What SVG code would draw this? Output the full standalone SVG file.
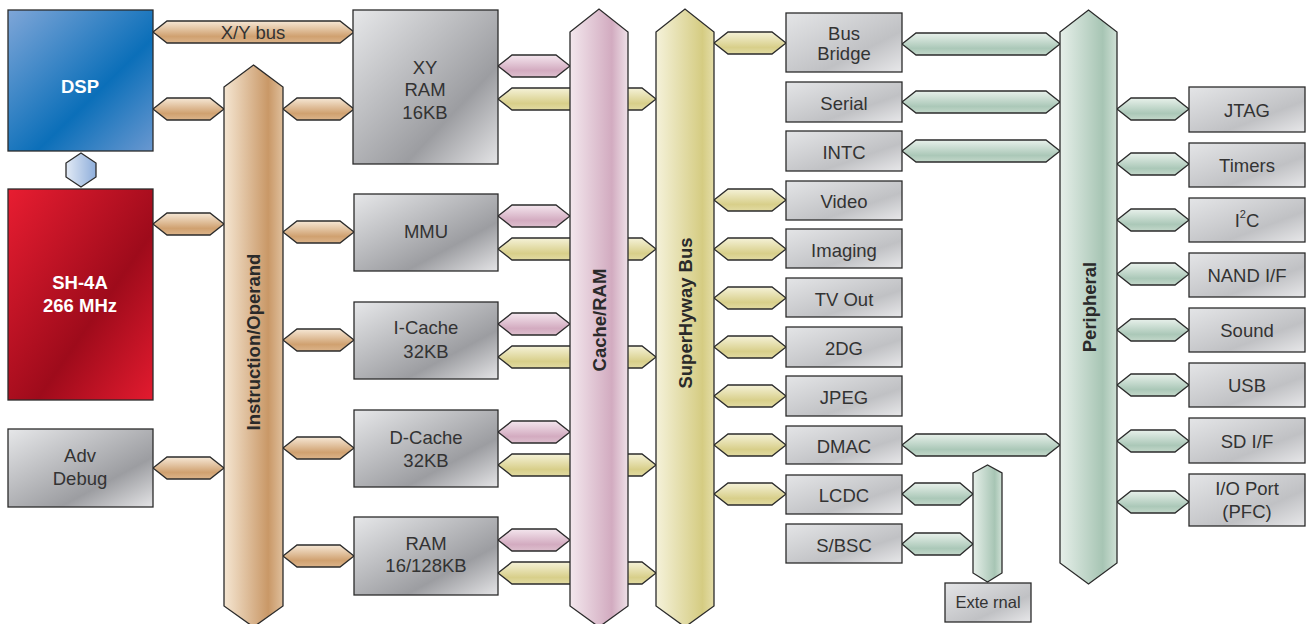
<svg xmlns="http://www.w3.org/2000/svg" width="1307" height="624" viewBox="0 0 1307 624">
<defs>
<linearGradient id="bOr" x1="0" y1="0" x2="1" y2="0"><stop offset="0" stop-color="#f5e6d2"/><stop offset="0.75" stop-color="#c99867"/><stop offset="1" stop-color="#dfbf9c"/></linearGradient>
<linearGradient id="bMa" x1="0" y1="0" x2="1" y2="0"><stop offset="0" stop-color="#f3e7ed"/><stop offset="0.72" stop-color="#d2abc0"/><stop offset="1" stop-color="#eee0e7"/></linearGradient>
<linearGradient id="bYe" x1="0" y1="0" x2="1" y2="0"><stop offset="0" stop-color="#f5f2da"/><stop offset="0.8" stop-color="#d5cc82"/><stop offset="1" stop-color="#e4dda8"/></linearGradient>
<linearGradient id="bGr" x1="0" y1="0" x2="1" y2="0"><stop offset="0" stop-color="#e6efe9"/><stop offset="0.75" stop-color="#a7c5b4"/><stop offset="1" stop-color="#cfe0d5"/></linearGradient>
<linearGradient id="cOr" x1="0" y1="0" x2="0" y2="1"><stop offset="0" stop-color="#f6e8d6"/><stop offset="0.7" stop-color="#d0a170"/><stop offset="1" stop-color="#dcb48a"/></linearGradient>
<linearGradient id="cMa" x1="0" y1="0" x2="0" y2="1"><stop offset="0" stop-color="#f4e6ee"/><stop offset="0.7" stop-color="#d3abc0"/><stop offset="1" stop-color="#ddbfce"/></linearGradient>
<linearGradient id="cYe" x1="0" y1="0" x2="0" y2="1"><stop offset="0" stop-color="#f5f2d8"/><stop offset="0.7" stop-color="#d8cf8a"/><stop offset="1" stop-color="#e2dba2"/></linearGradient>
<linearGradient id="cGr" x1="0" y1="0" x2="0" y2="1"><stop offset="0" stop-color="#e8f1eb"/><stop offset="0.7" stop-color="#abc8b8"/><stop offset="1" stop-color="#c3d8ca"/></linearGradient>
<linearGradient id="gBig" x1="0" y1="0" x2="1" y2="1"><stop offset="0" stop-color="#e6e7e9"/><stop offset="0.68" stop-color="#9c9da1"/><stop offset="1" stop-color="#e4e4e6"/></linearGradient>
<linearGradient id="gSm" x1="0" y1="0" x2="1" y2="1"><stop offset="0" stop-color="#e4e5e7"/><stop offset="0.65" stop-color="#c0c1c4"/><stop offset="1" stop-color="#e8e8ea"/></linearGradient>
<linearGradient id="gDsp" x1="0" y1="0" x2="1" y2="1"><stop offset="0" stop-color="#7fa6d8"/><stop offset="0.6" stop-color="#0b6fb9"/><stop offset="1" stop-color="#6a98d0"/></linearGradient>
<linearGradient id="gSh" x1="0" y1="0" x2="1" y2="1"><stop offset="0" stop-color="#e81d31"/><stop offset="0.6" stop-color="#9e0b1b"/><stop offset="1" stop-color="#e31b2f"/></linearGradient>
<linearGradient id="gHx" x1="0" y1="0" x2="1" y2="0"><stop offset="0" stop-color="#e2eaf5"/><stop offset="1" stop-color="#8eaedb"/></linearGradient>
<style>
.st{stroke:#2b2b2b;stroke-width:1.3}
.t{font-family:"Liberation Sans",Arial,sans-serif;font-size:18.5px;fill:#333;text-anchor:middle;dominant-baseline:central}
.w{font-family:"Liberation Sans",Arial,sans-serif;font-size:18.5px;font-weight:bold;fill:#fff;text-anchor:middle;dominant-baseline:central}
.bl{font-family:"Liberation Sans",Arial,sans-serif;font-size:18.5px;font-weight:bold;fill:#2a2a2a;text-anchor:middle;dominant-baseline:central}
</style>
</defs>
<rect width="1307" height="624" fill="#fff"/>

<g id="connectors">
<polygon class="st" fill="url(#cOr)" points="153,32 167,21 340,21 354,32 340,43 167,43"/>
<polygon class="st" fill="url(#cOr)" points="153,109 167,98 210,98 224,109 210,120 167,120"/>
<polygon class="st" fill="url(#cOr)" points="283,109 297,98 340,98 354,109 340,120 297,120"/>
<polygon class="st" fill="url(#cOr)" points="153,224 167,213 210,213 224,224 210,235 167,235"/>
<polygon class="st" fill="url(#cOr)" points="283,232 297,221 340,221 354,232 340,243 297,243"/>
<polygon class="st" fill="url(#cOr)" points="283,340 297,329 340,329 354,340 340,351 297,351"/>
<polygon class="st" fill="url(#cOr)" points="283,448 297,437 340,437 354,448 340,459 297,459"/>
<polygon class="st" fill="url(#cOr)" points="153,468 167,457 210,457 224,468 210,479 167,479"/>
<polygon class="st" fill="url(#cOr)" points="283,556 297,545 340,545 354,556 340,567 297,567"/>
<polygon class="st" fill="url(#cMa)" points="498,66 512,55 556,55 570,66 556,77 512,77"/>
<polygon class="st" fill="url(#cMa)" points="498,216 512,205 556,205 570,216 556,227 512,227"/>
<polygon class="st" fill="url(#cMa)" points="498,324 512,313 556,313 570,324 556,335 512,335"/>
<polygon class="st" fill="url(#cMa)" points="498,432 512,421 556,421 570,432 556,443 512,443"/>
<polygon class="st" fill="url(#cMa)" points="498,540 512,529 556,529 570,540 556,551 512,551"/>
<polygon class="st" fill="url(#cYe)" points="498,99 512,88 642,88 656,99 642,110 512,110"/>
<polygon class="st" fill="url(#cYe)" points="498,249 512,238 642,238 656,249 642,260 512,260"/>
<polygon class="st" fill="url(#cYe)" points="498,357 512,346 642,346 656,357 642,368 512,368"/>
<polygon class="st" fill="url(#cYe)" points="498,465 512,454 642,454 656,465 642,476 512,476"/>
<polygon class="st" fill="url(#cYe)" points="498,573 512,562 642,562 656,573 642,584 512,584"/>
<polygon class="st" fill="url(#cYe)" points="714,43 728,32 772,32 786,43 772,54 728,54"/>
<polygon class="st" fill="url(#cYe)" points="714,200 728,189 772,189 786,200 772,211 728,211"/>
<polygon class="st" fill="url(#cYe)" points="714,249 728,238 772,238 786,249 772,260 728,260"/>
<polygon class="st" fill="url(#cYe)" points="714,298 728,287 772,287 786,298 772,309 728,309"/>
<polygon class="st" fill="url(#cYe)" points="714,347 728,336 772,336 786,347 772,358 728,358"/>
<polygon class="st" fill="url(#cYe)" points="714,396 728,385 772,385 786,396 772,407 728,407"/>
<polygon class="st" fill="url(#cYe)" points="714,445 728,434 772,434 786,445 772,456 728,456"/>
<polygon class="st" fill="url(#cYe)" points="714,494 728,483 772,483 786,494 772,505 728,505"/>
<polygon class="st" fill="url(#cGr)" points="902,44 916,33 1046,33 1060,44 1046,55 916,55"/>
<polygon class="st" fill="url(#cGr)" points="902,102 916,91 1046,91 1060,102 1046,113 916,113"/>
<polygon class="st" fill="url(#cGr)" points="902,151 916,140 1046,140 1060,151 1046,162 916,162"/>
<polygon class="st" fill="url(#cGr)" points="902,445 916,434 1046,434 1060,445 1046,456 916,456"/>
<polygon class="st" fill="url(#cGr)" points="902,494 915,483 960,483 973,494 960,505 915,505"/>
<polygon class="st" fill="url(#cGr)" points="902,544 915,533 960,533 973,544 960,555 915,555"/>
<polygon class="st" fill="url(#cGr)" points="1117,109 1131,98 1175,98 1189,109 1175,120 1131,120"/>
<polygon class="st" fill="url(#cGr)" points="1117,164 1131,153 1175,153 1189,164 1175,175 1131,175"/>
<polygon class="st" fill="url(#cGr)" points="1117,220 1131,209 1175,209 1189,220 1175,231 1131,231"/>
<polygon class="st" fill="url(#cGr)" points="1117,274 1131,263 1175,263 1189,274 1175,285 1131,285"/>
<polygon class="st" fill="url(#cGr)" points="1117,330 1131,319 1175,319 1189,330 1175,341 1131,341"/>
<polygon class="st" fill="url(#cGr)" points="1117,385 1131,374 1175,374 1189,385 1175,396 1131,396"/>
<polygon class="st" fill="url(#cGr)" points="1117,441 1131,430 1175,430 1189,441 1175,452 1131,452"/>
<polygon class="st" fill="url(#cGr)" points="1117,502 1131,491 1175,491 1189,502 1175,513 1131,513"/>
<polygon class="st" fill="url(#gHx)" points="81,153 96,163 96,177 81,187 66,177 66,163"/>
<text class="t" x="253" y="32">X/Y bus</text>
</g>

<g id="bus-instruction">
<polygon class="st" fill="url(#bOr)" points="224,87 253.5,65 283,87 283,606 253.5,627 224,606"/>
<text class="bl" transform="translate(253.5,342) rotate(-90)">Instruction/Operand</text>
</g>
<g id="bus-cache">
<polygon class="st" fill="url(#bMa)" points="570,32 599,9 628,32 628,606 599,627 570,606"/>
<text class="bl" transform="translate(599,320) rotate(-90)">Cache/RAM</text>
</g>
<g id="bus-superhyway">
<polygon class="st" fill="url(#bYe)" points="656,32 685,9 714,32 714,606 685,627 656,606"/>
<text class="bl" transform="translate(685,313) rotate(-90)">SuperHyway Bus</text>
</g>
<g id="bus-peripheral">
<polygon class="st" fill="url(#bGr)" points="1060,32 1088.5,10 1117,32 1117,563 1088.5,584 1060,563"/>
<text class="bl" transform="translate(1089,307) rotate(-90)">Peripheral</text>
</g>
<g id="bus-external">
<polygon class="st" fill="url(#bGr)" points="973,473 987.5,465 1002,473 1002,573 987.5,582 973,573"/>
</g>

<g id="dsp"><rect class="st" x="8" y="10" width="145" height="141" fill="url(#gDsp)"/><text class="w" x="80" y="86">DSP</text></g>
<g id="sh4a"><rect class="st" x="8" y="189" width="145" height="211" fill="url(#gSh)"/><text class="w" x="80" y="282">SH-4A</text><text class="w" x="80" y="305">266 MHz</text></g>
<g id="advdebug"><rect class="st" x="8" y="429" width="145" height="78" fill="url(#gBig)"/><text class="t" x="80" y="455">Adv</text><text class="t" x="80" y="478">Debug</text></g>

<g id="xyram"><rect class="st" x="353" y="10" width="145" height="154" fill="url(#gBig)"/><text class="t" x="425" y="67">XY</text><text class="t" x="425" y="89">RAM</text><text class="t" x="425" y="112">16KB</text></g>
<g id="mmu"><rect class="st" x="354" y="194" width="144" height="77" fill="url(#gBig)"/><text class="t" x="426" y="231">MMU</text></g>
<g id="icache"><rect class="st" x="354" y="302" width="144" height="77" fill="url(#gBig)"/><text class="t" x="426" y="327">I-Cache</text><text class="t" x="426" y="351">32KB</text></g>
<g id="dcache"><rect class="st" x="354" y="410" width="144" height="77" fill="url(#gBig)"/><text class="t" x="426" y="437">D-Cache</text><text class="t" x="426" y="460">32KB</text></g>
<g id="ram"><rect class="st" x="354" y="517" width="144" height="78" fill="url(#gBig)"/><text class="t" x="426" y="543">RAM</text><text class="t" x="426" y="565">16/128KB</text></g>

<g id="busbridge"><rect class="st" x="786" y="13" width="116" height="59" fill="url(#gSm)"/><text class="t" x="844" y="33">Bus</text><text class="t" x="844" y="53">Bridge</text></g>
<g id="serial"><rect class="st" x="786" y="82" width="116" height="40" fill="url(#gSm)"/><text class="t" x="844" y="103">Serial</text></g>
<g id="intc"><rect class="st" x="786" y="131" width="116" height="40" fill="url(#gSm)"/><text class="t" x="844" y="152">INTC</text></g>
<g id="video"><rect class="st" x="786" y="181" width="116" height="39" fill="url(#gSm)"/><text class="t" x="844" y="201">Video</text></g>
<g id="imaging"><rect class="st" x="786" y="229" width="116" height="39" fill="url(#gSm)"/><text class="t" x="844" y="250">Imaging</text></g>
<g id="tvout"><rect class="st" x="786" y="278" width="116" height="39" fill="url(#gSm)"/><text class="t" x="844" y="299">TV Out</text></g>
<g id="twodg"><rect class="st" x="786" y="327" width="116" height="40" fill="url(#gSm)"/><text class="t" x="844" y="348">2DG</text></g>
<g id="jpeg"><rect class="st" x="786" y="376" width="116" height="40" fill="url(#gSm)"/><text class="t" x="844" y="397">JPEG</text></g>
<g id="dmac"><rect class="st" x="786" y="426" width="116" height="38" fill="url(#gSm)"/><text class="t" x="844" y="446">DMAC</text></g>
<g id="lcdc"><rect class="st" x="786" y="475" width="116" height="39" fill="url(#gSm)"/><text class="t" x="844" y="495">LCDC</text></g>
<g id="sbsc"><rect class="st" x="786" y="524" width="116" height="39" fill="url(#gSm)"/><text class="t" x="844" y="545">S/BSC</text></g>
<g id="external"><rect class="st" x="945" y="583" width="86" height="39" fill="url(#gSm)"/><text class="t" x="988" y="602" style="font-size:16.5px">Exte rnal</text></g>

<g id="jtag"><rect class="st" x="1189" y="87" width="116" height="45" fill="url(#gSm)"/><text class="t" x="1247" y="110">JTAG</text></g>
<g id="timers"><rect class="st" x="1189" y="143" width="116" height="44" fill="url(#gSm)"/><text class="t" x="1247" y="165">Timers</text></g>
<g id="i2c"><rect class="st" x="1189" y="198" width="116" height="44" fill="url(#gSm)"/><text class="t" x="1247" y="220">I<tspan dy="-6" font-size="11">2</tspan><tspan dy="6">C</tspan></text></g>
<g id="nand"><rect class="st" x="1189" y="253" width="116" height="44" fill="url(#gSm)"/><text class="t" x="1247" y="275">NAND I/F</text></g>
<g id="sound"><rect class="st" x="1189" y="308" width="116" height="44" fill="url(#gSm)"/><text class="t" x="1247" y="330">Sound</text></g>
<g id="usb"><rect class="st" x="1189" y="363" width="116" height="44" fill="url(#gSm)"/><text class="t" x="1247" y="385">USB</text></g>
<g id="sdif"><rect class="st" x="1189" y="418" width="116" height="45" fill="url(#gSm)"/><text class="t" x="1247" y="441">SD I/F</text></g>
<g id="ioport"><rect class="st" x="1189" y="474" width="116" height="52" fill="url(#gSm)"/><text class="t" x="1247" y="488">I/O Port</text><text class="t" x="1247" y="511">(PFC)</text></g>
</svg>
